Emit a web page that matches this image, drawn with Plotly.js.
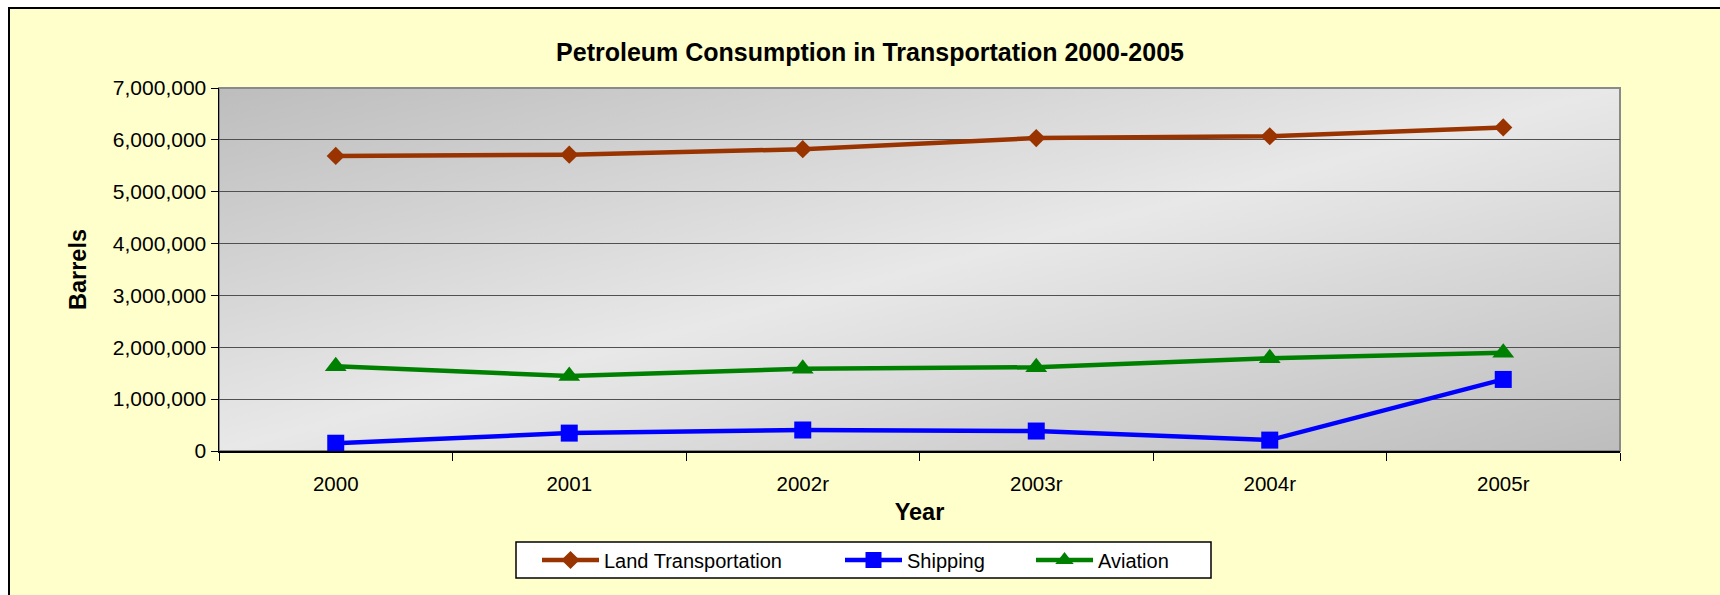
<!DOCTYPE html>
<html>
<head>
<meta charset="utf-8">
<script src="https://cdn.plot.ly/plotly-3.0.1.min.js"></script>
<style>
  html, body { margin: 0; padding: 0; background: #ffffff; overflow: hidden; width: 1720px; height: 595px; }
  #wrap { position: absolute; left: 8px; top: 7px; border: 2px solid #000; width: 1720px; height: 600px; }
  #chart { width: 1720px; height: 600px; }
</style>
</head>
<body>
<div id="wrap"><div id="chart"></div></div>
<script>
const years = ["2000", "2001", "2002r", "2003r", "2004r", "2005r"];
const landTransportation = [5690000, 5715000, 5820000, 6035000, 6070000, 6240000];
const shipping = [150000, 345000, 405000, 385000, 210000, 1380000];
const aviation = [1635000, 1445000, 1585000, 1615000, 1790000, 1895000];
const seriesNames = ["Land Transportation", "Shipping", "Aviation"];

const FONT = "Liberation Sans, Arial, sans-serif";

const W = 1720, H = 600;
const mL = 209, mR = 110, mT = 79, mB = 158;
const pw = W - mL - mR, ph = H - mT - mB;
const px = v => (v - mL) / pw;
const py = v => (H - mB - v) / ph;

const traces = [
  {x: years, y: landTransportation, name: seriesNames[0], type: "scatter", mode: "lines+markers",
   line: {color: "#993300", width: 4.5}, marker: {symbol: "diamond", size: 14, color: "#993300"}, legend: "legend"},
  {x: years, y: shipping, name: seriesNames[1], type: "scatter", mode: "lines+markers",
   line: {color: "#0000ff", width: 4.5}, marker: {symbol: "square", size: 17, color: "#0000ff"}, legend: "legend2"},
  {x: years, y: aviation, name: seriesNames[2], type: "scatter", mode: "lines+markers",
   line: {color: "#008000", width: 4.5}, marker: {symbol: "triangle-up", size: 19, color: "#008000"}, legend: "legend3"}
];

const gradSvg = '<svg xmlns="http://www.w3.org/2000/svg" width="100" height="100" preserveAspectRatio="none">' +
  '<defs><linearGradient id="g" x1="0" y1="0" x2="1" y2="1">' +
  '<stop offset="0" stop-color="#bdbdbd"/><stop offset="0.5" stop-color="#e8e8e8"/><stop offset="1" stop-color="#bdbdbd"/>' +
  '</linearGradient></defs><rect width="100" height="100" fill="url(#g)"/></svg>';
const gradUri = "data:image/svg+xml;charset=utf-8," + encodeURIComponent(gradSvg);

const legendCommon = {orientation: "h", bgcolor: "rgba(0,0,0,0)", borderwidth: 0,
  font: {family: FONT, size: 20, color: "#000"}, yanchor: "middle", y: py(551), xanchor: "left", itemwidth: 57};

const layout = {
  width: W, height: H,
  paper_bgcolor: "#ffffcc",
  plot_bgcolor: "#d6d6d6",
  margin: {l: mL, r: mR, t: mT, b: mB, pad: 0},
  font: {family: FONT, size: 18, color: "#000"},
  title: {text: "<b>Petroleum Consumption in Transportation 2000-2005</b>",
          font: {family: FONT, size: 25, color: "#000"},
          x: 0.5, xref: "container", y: 1 - 43 / H, yref: "container", yanchor: "middle"},
  xaxis: {type: "category", range: [-0.5, 5.5], tickson: "boundaries", ticks: "outside", ticklen: 8,
          tickcolor: "#000", tickwidth: 1, showline: true, linecolor: "#000", linewidth: 2,
          showgrid: false, zeroline: false, ticklabelstandoff: 13,
          tickfont: {family: FONT, size: 20.5, color: "#000"},
          title: {text: "<b>Year</b>", font: {family: FONT, size: 23.5, color: "#000"}, standoff: 10}},
  yaxis: {range: [0, 7000000], dtick: 1000000, tick0: 0, tickformat: ",d", ticks: "outside", ticklen: 7,
          tickcolor: "#000", tickwidth: 1, showline: true, linecolor: "#000", linewidth: 1.5,
          showgrid: true, gridcolor: "#505050", gridwidth: 1, zeroline: false,
          tickfont: {family: FONT, size: 21, color: "#000"},
          title: {text: "<b>Barrels</b>", font: {family: FONT, size: 23.5, color: "#000"}, standoff: 19}},
  images: [{source: gradUri, xref: "paper", yref: "paper", x: 0, y: 1, sizex: 1, sizey: 1,
            sizing: "stretch", xanchor: "left", yanchor: "top", layer: "below"}],
  shapes: [
    {type: "rect", xref: "paper", yref: "paper", x0: 0, x1: 1, y0: 0, y1: 1,
     line: {color: "#8a8a8a", width: 2}, fillcolor: "rgba(0,0,0,0)", layer: "below"},
    {type: "rect", xref: "paper", yref: "paper", x0: px(506), x1: px(1201), y0: py(569), y1: py(533),
     line: {color: "#000", width: 1.5}, fillcolor: "#ffffff", layer: "below"}
  ],
  legend: Object.assign({}, legendCommon, {x: px(527)}),
  legend2: Object.assign({}, legendCommon, {x: px(830)}),
  legend3: Object.assign({}, legendCommon, {x: px(1021)}),
  showlegend: true
};

Plotly.newPlot("chart", traces, layout, {displayModeBar: false, staticPlot: true});
</script>
</body>
</html>
